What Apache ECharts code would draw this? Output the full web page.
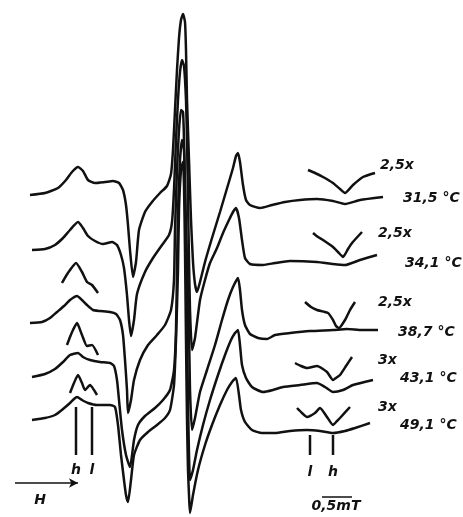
<!DOCTYPE html>
<html>
<head>
<meta charset="utf-8">
<script src="https://cdn.jsdelivr.net/npm/echarts@6/dist/echarts.min.js"></script>
<style>
  html, body { margin: 0; padding: 0; background: #fff; }
  #main { width: 463px; height: 517px; }
</style>
</head>
<body>
<div id="main"></div>
<script>
  // spectra: [field, signal] (field in px-like units, signal downwards)
  var spec315 = [[30,195],[45,193],[58,188],[66,180],[72,172],[78,167],[83,171],[88,180],[95,183],[105,182],[113,181],[119,183],[123,190],[126,205],[128,225],[130,250],[133,277],[136,262],[139,230],[145,212],[152,202],[160,193],[167,186],[171,174],[173,150],[175,110],[177,70],[179,38],[181,20],[183,14],[185,22],[186,50],[187,100],[189,160],[191,220],[193,262],[195,284],[197,292],[200,282],[205,262],[212,238],[220,212],[228,185],[233,168],[236,156],[238,153],[240,162],[243,185],[246,200],[250,205],[260,208],[272,205],[285,202],[300,200],[317,199],[333,201],[345,204],[360,200],[383,197]];
  var spec341 = [[32,250],[45,249],[55,245],[63,238],[70,230],[78,222],[83,228],[88,236],[95,241],[103,244],[112,242],[117,245],[121,255],[124,268],[127,295],[129,320],[131,336],[134,320],[137,294],[145,272],[153,258],[162,245],[169,235],[172,222],[174,190],[176,140],[178,100],[180,72],[182,60],[184,66],[186,100],[187,140],[188,200],[189,260],[190,310],[192,350],[195,338],[200,300],[205,280],[210,263],[217,248],[223,233],[229,220],[233,212],[236,208],[239,218],[242,240],[245,258],[250,264],[263,265],[275,263],[290,261],[317,262],[333,264],[345,265],[360,260],[377,255]];
  var spec387 = [[30,323],[42,322],[50,318],[57,312],[64,306],[70,300],[77,296],[82,300],[87,305],[93,310],[100,311],[110,312],[116,314],[120,320],[123,335],[125,360],[127,390],[128,413],[131,400],[134,380],[140,360],[148,345],[157,335],[165,325],[171,310],[174,280],[175,230],[177,170],[179,130],[181,110],[183,112],[184,140],[185,190],[187,260],[189,330],[190,390],[192,430],[195,418],[200,392],[207,370],[215,345],[222,320],[228,300],[233,287],[238,278],[240,290],[242,310],[245,325],[250,334],[258,338],[267,339],[275,335],[290,333],[310,331],[333,330],[347,329],[362,330],[378,330]];
  var spec431 = [[32,377],[45,374],[55,369],[63,362],[70,355],[78,353],[83,357],[90,360],[100,362],[110,363],[114,366],[117,380],[119,400],[122,430],[126,455],[130,467],[134,440],[138,425],[145,416],[155,408],[163,400],[170,390],[174,370],[176,330],[177,270],[178,210],[180,160],[182,140],[184,150],[185,190],[186,250],[187,330],[188,400],[190,480],[193,470],[197,450],[203,425],[210,400],[218,375],[225,355],[231,340],[235,333],[238,330],[240,345],[242,365],[246,378],[252,387],[263,392],[273,390],[283,387],[300,385],[317,383],[325,387],[333,392],[343,390],[353,385],[373,380]];
  var spec491 = [[32,420],[45,418],[55,415],[63,409],[70,403],[74,399],[77,397],[82,400],[88,403],[97,405],[110,405],[115,407],[118,425],[121,455],[124,480],[126,495],[128,502],[131,480],[134,455],[140,440],[148,432],[157,425],[165,418],[170,410],[174,385],[176,340],[178,270],[179,210],[181,170],[183,162],[184,185],[185,250],[186,340],[187,420],[188,470],[189,495],[190,513],[193,495],[198,470],[205,445],[212,425],[220,405],[227,390],[232,382],[236,378],[239,395],[241,410],[245,422],[252,430],[262,433],[275,433],[290,431],[307,430],[320,431],[333,433],[345,431],[355,428],[370,423]];

  // enlarged low-field parts
  var lowIns387 = [[62,283],[66,276],[70,270],[76,263],[82,272],[87,282],[92,285],[98,293]];
  var lowIns431 = [[67,345],[70,337],[73,330],[77,323],[82,335],[87,346],[92,345],[98,355]];
  var lowIns491 = [[70,393],[74,383],[78,375],[82,383],[85,390],[90,385],[94,390],[97,395]];

  // enlarged high-field parts
  var highIns315 = [[308,170],[315,173],[323,177],[333,183],[340,189],[345,193],[353,185],[363,177],[375,173]];
  var highIns341 = [[313,233],[318,237],[323,240],[333,247],[338,252],[343,257],[348,249],[352,243],[362,232]];
  var highIns387 = [[305,302],[311,307],[317,310],[328,313],[333,320],[336,326],[339,328],[345,320],[350,310],[355,302]];
  var highIns431 = [[295,363],[301,366],[307,368],[317,366],[327,372],[333,380],[336,378],[340,375],[346,366],[352,357]];
  var highIns491 = [[297,408],[302,413],[307,417],[315,413],[320,408],[327,417],[333,425],[337,421],[340,418],[350,407]];

  var temps = ['31,5 °C', '34,1 °C', '38,7 °C', '43,1 °C', '49,1 °C'];
  var gains = ['2,5x', '2,5x', '2,5x', '3x', '3x'];

  // h / l marker ticks
  var markH = [[[76,407],[76,455]], [[333,435],[333,455]]];
  var markL = [[[92,407],[92,455]], [[310,435],[310,455]]];
  var scaleBar = [[322,497],[352,497]];
  var fieldArrow = [[15,483],[78,483]];

  var chart = echarts.init(document.getElementById('main'));

  var traces = [spec315, spec341, spec387, spec431, spec491,
    lowIns387, lowIns431, lowIns491,
    highIns315, highIns341, highIns387, highIns431, highIns491];

  var series = [];
  traces.forEach(function (d) {
    series.push({
      type: 'line', data: d, smooth: 0.18, showSymbol: false, silent: true,
      animation: false,
      lineStyle: { color: '#111', width: 2.5 }
    });
  });
  markH.concat(markL).forEach(function (d) {
    series.push({
      type: 'line', data: d, showSymbol: false, silent: true, animation: false,
      lineStyle: { color: '#111', width: 2.5 }
    });
  });
  series.push({
    type: 'line', data: scaleBar, showSymbol: false, silent: true, animation: false,
    lineStyle: { color: '#111', width: 1.5 }
  });
  series.push({
    type: 'line', data: [], silent: true, animation: false,
    markLine: {
      silent: true, animation: false,
      symbol: ['none', 'arrow'], symbolSize: [7, 9],
      label: { show: false },
      lineStyle: { color: '#111', width: 1.5, type: 'solid' },
      data: [[{ coord: fieldArrow[0] }, { coord: fieldArrow[1] }]]
    }
  });

  var txt = { fill: '#111', fontFamily: 'DejaVu Sans', fontStyle: 'italic', fontWeight: 'bold', fontSize: 14 };
  var gainY = [165, 233, 302, 360, 407];
  var gainX = [380, 378, 378, 378, 378];
  var tempY = [198, 263, 332, 378, 425];
  var tempX = [403, 405, 398, 400, 400];
  var graphics = [];
  gains.forEach(function (g, i) {
    graphics.push({ type: 'text', x: gainX[i], y: gainY[i], style: Object.assign({ text: g, verticalAlign: 'middle' }, txt) });
    graphics.push({ type: 'text', x: tempX[i], y: tempY[i], style: Object.assign({ text: temps[i], verticalAlign: 'middle' }, txt) });
  });
  [['h', 76, 470], ['l', 92, 470], ['l', 310, 472], ['h', 333, 472], ['H', 40, 500], ['0,5mT', 336, 506]].forEach(function (t) {
    graphics.push({ type: 'text', x: t[1], y: t[2], style: Object.assign({ text: t[0], align: 'center', verticalAlign: 'middle' }, txt) });
  });

  chart.setOption({
    backgroundColor: '#fff',
    grid: { left: 0, right: 0, top: 0, bottom: 0 },
    xAxis: { type: 'value', min: 0, max: 463, show: false },
    yAxis: { type: 'value', min: 0, max: 517, inverse: true, show: false },
    series: series,
    graphic: graphics
  });
</script>
</body>
</html>
